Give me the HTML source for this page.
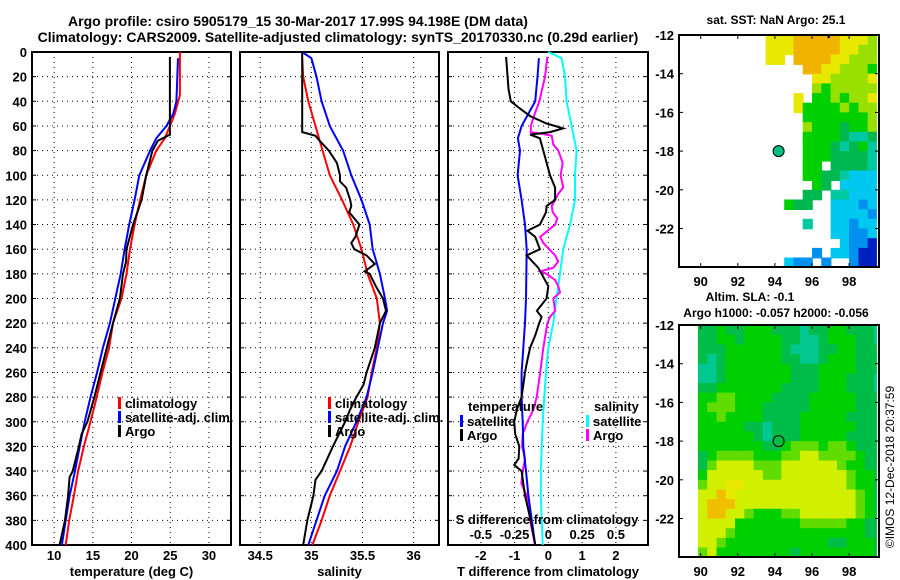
<!DOCTYPE html>
<html><head><meta charset="utf-8"><style>
html,body{margin:0;padding:0;background:#fff}
svg{display:block;font-family:"Liberation Sans",Arial,sans-serif;font-weight:bold}
</style></head><body>
<svg id="fig" width="900" height="580" viewBox="0 0 900 580" xmlns="http://www.w3.org/2000/svg">
<text x="298" y="26" font-size="14" text-anchor="middle">Argo profile: csiro 5905179_15 30-Mar-2017 17.99S 94.198E (DM data)</text>
<text x="338" y="42" font-size="14" text-anchor="middle">Climatology: CARS2009. Satellite-adjusted climatology: synTS_20170330.nc (0.29d earlier)</text>
<g id="g1"></g><g id="g2"></g><g id="g3"></g><g id="m1"></g><g id="m2"></g>
<text transform="translate(894,467) rotate(-90)" font-size="12" font-weight="normal" text-anchor="middle">©IMOS 12-Dec-2018 20:37:59</text>
</svg>
<script>
// ---- profile data ----
const tClimDepth=[0,35,50,60,70,80,100,120,140,160,180,200,220,240,260,280,300,320,340,360,380,400];
const tClimVal=[26.25,26.25,25.6,24.95,24.3,23.2,21.9,21.1,20.4,19.8,19.35,18.7,17.6,17.1,16.25,15.5,14.7,13.85,13.1,12.55,11.95,11.5];
const tSatDepth=[5,40,50,60,70,80,100,120,140,160,180,200,220,240,260,280,300,320,340,360,380,400];
const tSatVal=[26.0,25.8,25.4,24.5,23.2,22.4,21.0,20.4,19.7,19.1,18.6,17.9,17.2,16.3,15.55,14.7,13.95,13.3,12.7,12.0,11.5,11.0];
const tArgoDepth=[4,15,60,67,72,80,100,120,140,160,170,180,200,220,240,260,280,300,310,320,340,345,360,380,400];
const tArgoVal=[24.95,24.95,24.95,24.95,23.4,22.7,21.9,21.3,20.2,19.35,19.3,18.9,18.5,17.6,16.8,16.0,15.2,14.3,13.55,13.2,12.4,12.0,11.8,11.4,10.7];
const sClimDepth=[5,20,40,60,80,100,120,140,160,180,200,220,240,260,280,300,320,340,360,380,400];
const sClimVal=[34.91,34.92,34.97,35.04,35.11,35.18,35.30,35.41,35.49,35.55,35.64,35.67,35.64,35.59,35.55,35.46,35.38,35.28,35.18,35.10,35.01];
const sSatDepth=[0,5,20,40,60,80,100,120,140,160,180,200,210,220,240,260,280,300,320,340,360,380,400];
const sSatVal=[34.91,35.0,35.05,35.10,35.18,35.31,35.39,35.49,35.57,35.60,35.67,35.72,35.74,35.70,35.65,35.60,35.54,35.44,35.33,35.25,35.13,35.05,34.97];
const sArgoDepth=[0,65,68,72,80,90,100,105,110,120,125,130,140,150,155,160,165,172,178,180,190,200,210,220,240,260,270,280,290,300,320,340,347,360,380,400];
const sArgoVal=[34.91,34.91,35.04,35.08,35.17,35.25,35.28,35.28,35.34,35.38,35.39,35.37,35.47,35.43,35.39,35.42,35.54,35.62,35.52,35.57,35.63,35.70,35.73,35.67,35.62,35.54,35.51,35.44,35.38,35.33,35.21,35.10,35.04,35.02,34.96,34.92];
const dTSatDepth=[5,20,40,50,60,70,80,100,120,140,160,200,220,240,260,280,300,320,340,360,380,400];
const dTSatVal=[-0.28,-0.32,-0.39,-0.59,-0.79,-0.9,-0.84,-0.91,-0.79,-0.69,-0.64,-0.66,-0.69,-0.74,-0.79,-0.79,-0.76,-0.74,-0.66,-0.59,-0.49,-0.39];
const dTArgoDepth=[4,30,40,45,52,58,62,65,67,70,80,100,110,120,125,130,140,145,150,160,165,175,190,200,210,215,220,230,240,250,260,280,290,300,310,320,330,335,340,360,380,400];
const dTArgoVal=[-1.25,-1.18,-1.11,-0.88,-0.54,-0.05,0.44,0.05,-0.54,-0.25,-0.15,0.05,0.2,0.2,-0.05,-0.07,-0.25,-0.62,-0.39,-0.25,-0.64,-0.3,0,-0.05,-0.34,-0.2,-0.27,-0.39,-0.54,-0.62,-0.69,-0.79,-0.93,-1.01,-0.98,-0.86,-0.88,-1.01,-0.79,-0.69,-0.52,-0.39];
const dSSatDepth=[0,5,20,40,60,80,100,120,140,160,180,200,220,240,260,280,300,320,340,360,380,400];
const dSSatVal=[0,0.098,0.123,0.135,0.172,0.209,0.197,0.197,0.16,0.11,0.086,0.06,0.037,0,-0.017,-0.03,-0.042,-0.049,-0.056,-0.056,-0.049,-0.042];
const dSArgoDepth=[4,20,40,50,60,65,67,68,75,80,90,100,110,115,120,125,130,135,140,150,155,165,170,175,178,180,185,190,195,200,210,215,220,240,260,280,290,300,310,320,330,340,350,360,380,400];
const dSArgoVal=[-0.007,-0.025,-0.066,-0.10,-0.13,-0.13,-0.012,0.025,0.037,0.074,0.106,0.091,0.11,0.074,0.05,0.025,0.032,0.066,0.05,-0.06,-0.037,0.05,0.074,0.037,-0.06,-0.012,0.05,0.074,0.086,0.037,0.05,0.012,-0.007,-0.037,-0.06,-0.086,-0.11,-0.155,-0.19,-0.194,-0.172,-0.19,-0.2,-0.16,-0.135,-0.098];
const depthTicks=[0,20,40,60,80,100,120,140,160,180,200,220,240,260,280,300,320,340,360,380,400];
const tTicks=[10,15,20,25,30];
const sTicks=[34.5,35,35.5,36];
const dTTicks=[-2,-1,0,1,2];
const dSTicks=[-0.5,-0.25,0,0.25,0.5];
const dSTickLabels=["-0.5","-0.25","0","0.25","0.5"];
// ---- map data (0.5 deg cells) ----
const sstLon0=93.5, sstCell=0.5;
const sstRows=["yyyoooooyyyl","yyyoooooyyll","yy.ooooyylll","....ooyylllg",".....yylllly",".....lglllll","...y.gglglly","...ygggglgll","....gggggggl","....lgggdggl","....ggggdttd","....gggdtdgt","....gggddddt","....gg.ddddt","....ggddtccc",".....gd.cccc","....dd.ttccc","..gdd..cccbc",".......ccccb","....t..ccbcc",".......ccbbc","........cbbn",".....b.ccbnn","..cbb.b..bnn"];
const slaLon0=89.85, slaCell=0.5;
const slaRows=["ddgddgggdddtddggdddt","ddggdggggddttdgggddt","dddggggggdtttddggddd","dtdggggggddttdgggddd","ttdgggggggdddggggddd","ttdgggggggdddgggdddt","ddgggggggddddgggdddt","ggllggggddddgggggddd","glllgggdddddgggggddd","gglggggddddgggggdddd","gggggddtdddggggggddd","ggggggdtdddgggggdddd","gggggggddglllgllgddd","dgllllgggllyyllllgdd","dlyyyylllyyyyyylggdd","gyyyyyyllyyyyyyylggd","lyyYYyyyyyyyyyyylggd","yyoYyyyyyyyyyyyyylgd","yoooyyyyyyyyyyyyylgd","yooyylgggllyyyyyylgd","yyyyggggggglllllggdd","yyylggggggggggggggdd","yylgggggggggggddgggd","lyggggggggdggggggggd"];
const mapLonTicks=[90,92,94,96,98];
const mapLatTicks=[-12,-14,-16,-18,-20,-22];
const argoLon=94.2, argoLat=-18;

const NS='http://www.w3.org/2000/svg';
function mk(tag,attrs,parent){const e=document.createElementNS(NS,tag);for(const k in attrs)e.setAttribute(k,attrs[k]);parent.appendChild(e);return e;}
const Y0=52,Y1=545;
const yD=d=>Y0+d*(Y1-Y0)/400;

function panel(g,x0,x1,vmin,vmax,ticks,labels,xlabel,name,showY){
  const xs=v=>x0+(v-vmin)*(x1-x0)/(vmax-vmin);
  depthTicks.forEach(d=>{
    const l=mk('line',{x1:x0,x2:x1,y1:yD(d),y2:yD(d),stroke:'#000','stroke-width':1,'stroke-dasharray':'1,4'},g);
    
    
    mk('line',{x1:x0,x2:x0+4,y1:yD(d),y2:yD(d),stroke:'#000'},g);
    mk('line',{x1:x1-4,x2:x1,y1:yD(d),y2:yD(d),stroke:'#000'},g);
    if(showY){const t=mk('text',{x:x0-5,y:yD(d)+5,'font-size':13,'text-anchor':'end'},g);t.textContent=d;
      
      }
  });
  ticks.forEach((v,i)=>{
    const l=mk('line',{x1:xs(v),x2:xs(v),y1:Y0,y2:Y1,stroke:'#000','stroke-width':1,'stroke-dasharray':'1,4'},g);
    
    
    const t=mk('text',{x:xs(v),y:560,'font-size':13,'text-anchor':'middle'},g);t.textContent=labels?labels[i]:v;
    
    
  });
  const r=mk('rect',{x:x0,y:Y0,width:x1-x0,height:Y1-Y0,fill:'none',stroke:'#000','stroke-width':2},g);
  
  
  const t=mk('text',{x:(x0+x1)/2,y:576,'font-size':13,'text-anchor':'middle'},g);t.textContent=xlabel;
  
  
  return xs;
}
function series(g,xs,depths,vals,color,name){
  const pts=depths.map((d,i)=>xs(vals[i]).toFixed(1)+','+yD(d).toFixed(1)).join(' ');
  const p=mk('polyline',{points:pts,fill:'none',stroke:color,'stroke-width':2},g);
  
  
}
function legend(g,x,y,color,label,name){
  mk('rect',{x:x,y:y-10,width:3,height:12,fill:color},g);
  const t=mk('text',{x:x+7,y:y+1,'font-size':13},g);t.textContent=label;
  
  
}
const g1=document.getElementById('g1'),g2=document.getElementById('g2'),g3=document.getElementById('g3');
const xT=panel(g1,32,231,7.14,32.85,tTicks,null,'temperature (deg C)','temperature-panel',true);
series(g1,xT,tClimDepth,tClimVal,'#ff0000','temperature-climatology-line');
series(g1,xT,tSatDepth,tSatVal,'#0000ff','temperature-satellite-line');
series(g1,xT,tArgoDepth,tArgoVal,'#000000','temperature-argo-line');
legend(g1,118,407,'#f00','climatology','legend-climatology');
legend(g1,118,421,'#00f','satellite-adj. clim.','legend-satellite');
legend(g1,118,435,'#000','Argo','legend-argo');
const xS=panel(g2,240,439,34.302,36.248,sTicks,null,'salinity','salinity-panel',false);
series(g2,xS,sClimDepth,sClimVal,'#ff0000','salinity-climatology-line');
series(g2,xS,sSatDepth,sSatVal,'#0000ff','salinity-satellite-line');
series(g2,xS,sArgoDepth,sArgoVal,'#000000','salinity-argo-line');
legend(g2,328,407,'#f00','climatology','legend-climatology-s');
legend(g2,328,421,'#00f','satellite-adj. clim.','legend-satellite-s');
legend(g2,328,435,'#000','Argo','legend-argo-s');
const xdT=panel(g3,448,648,-2.97,2.95,dTTicks,null,'T difference from climatology','difference-panel',false);
const xdS=v=>xdT(v*4);
series(g3,xdS,dSSatDepth,dSSatVal,'#00ffff','s-diff-satellite-line');
series(g3,xdS,dSArgoDepth,dSArgoVal,'#ff00ff','s-diff-argo-line');
series(g3,xdT,dTSatDepth,dTSatVal,'#0000ff','t-diff-satellite-line');
series(g3,xdT,dTArgoDepth,dTArgoVal,'#000000','t-diff-argo-line');
{const t=mk('text',{x:468,y:411,'font-size':13},g3);t.textContent='temperature';

}
{const t=mk('text',{x:594,y:411,'font-size':13},g3);t.textContent='salinity';

}
legend(g3,460,425,'#00f','satellite','legend-t-satellite');
legend(g3,460,439,'#000','Argo','legend-t-argo');
legend(g3,586,425,'#0ff','satellite','legend-s-satellite');
legend(g3,586,439,'#f0f','Argo','legend-s-argo');
{const t=mk('text',{x:547,y:524,'font-size':13,'text-anchor':'middle'},g3);t.textContent='S difference from climatology';

}
dSTicks.forEach((v,i)=>{const t=mk('text',{x:xdS(v),y:539,'font-size':13,'text-anchor':'middle'},g3);t.textContent=dSTickLabels[i];

});

// ---- maps ----
const palette={o:'#f0b400',y:'#e8e800',Y:'#f0e000',l:'#98e000',g:'#00d000',d:'#00b850',t:'#00c8a0',c:'#00c8f0',b:'#0090f0',n:'#0020c0'};
const slaPal={o:'#f0c000',Y:'#e8e800',y:'#d0f000',l:'#60dc00',g:'#00d000',d:'#00bc48',t:'#00c890'};
function map(g,top,rows,lon0,cell,pal,name,title,dotFill){
  const L=679,R=879,B=top+232;
  const xl=lon=>700.7+(lon-90)*18.55;
  const yl=lat=>top+(-12-lat)*19.35;
  const cid='clip'+name;
  const cp=mk('clipPath',{id:cid},g);mk('rect',{x:L,y:top,width:xl(99.5)-L,height:B-top},cp);
  const cg=mk('g',{'clip-path':'url(#'+cid+')'},g);
  rows.forEach((row,ri)=>{
    for(let ci=0;ci<row.length;ci++){
      const c=row[ci]; if(c==='.')continue;
      const lon=lon0+ci*cell, lat=-12-ri*cell;
      const r=mk('rect',{x:xl(lon).toFixed(1),y:yl(lat).toFixed(1),width:(cell*18.55+0.8).toFixed(1),height:(cell*19.35+0.8).toFixed(1),fill:pal[c]},cg);
      
      
    }
  });
  const f=mk('rect',{x:L,y:top,width:R-L,height:B-top,fill:'none',stroke:'#000','stroke-width':2},g);
  
  
  mapLonTicks.forEach(v=>{mk('line',{x1:xl(v),x2:xl(v),y1:B,y2:B-4,stroke:'#000'},g);mk('line',{x1:xl(v),x2:xl(v),y1:top,y2:top+4,stroke:'#000'},g);
    const t=mk('text',{x:xl(v),y:B+19,'font-size':13,'text-anchor':'middle'},g);t.textContent=v;
    
    });
  mapLatTicks.forEach(v=>{mk('line',{x1:L,x2:L+4,y1:yl(v),y2:yl(v),stroke:'#000'},g);mk('line',{x1:R-4,x2:R,y1:yl(v),y2:yl(v),stroke:'#000'},g);
    const t=mk('text',{x:L-5,y:yl(v)+5,'font-size':13,'text-anchor':'end'},g);t.textContent=v;
    
    });
  const dot=mk('circle',{cx:xl(argoLon),cy:yl(argoLat),r:5.5,fill:dotFill,stroke:'#000','stroke-width':1},g);
  
  
  mk('circle',{cx:xl(96.9),cy:yl(-12.1),r:1.3,fill:'#000'},g);
  title.forEach((s,i)=>{const t=mk('text',{x:s[1],y:s[2],'font-size':12,'text-anchor':'middle'},g);t.textContent=s[0];
    
    });
}
map(document.getElementById('m1'),35,sstRows,sstLon0,sstCell,palette,'sst-map',[['sat. SST: NaN Argo: 25.1',776,24]],'#00c080');
map(document.getElementById('m2'),325,slaRows,slaLon0,slaCell,slaPal,'sla-map',[['Altim. SLA: -0.1',750,301],['Argo h1000: -0.057 h2000: -0.056',776,317]],'none');
</script>
</body></html>
